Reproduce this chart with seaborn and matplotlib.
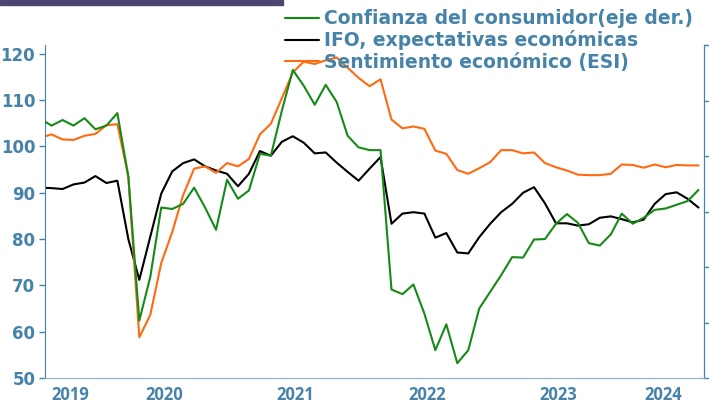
import numpy as np
import pandas as pd
import seaborn as sns
import matplotlib.pyplot as plt
from matplotlib.patches import Rectangle

# Monthly data, Jul 2019 - Jul 2024 (first month only partly visible)
months = pd.date_range("2019-07-01", "2024-07-01", freq="MS")

ifo = [91.1, 91.0, 90.8, 91.8, 92.2, 93.6, 92.1, 92.6, 80.0, 71.2, 80.5, 89.8,
       94.6, 96.4, 97.2, 95.7, 94.8, 94.1, 91.4, 94.1, 99.0, 98.0, 101.0, 102.2,
       100.8, 98.5, 98.7, 96.5, 94.5, 92.6, 95.2, 97.7, 83.3, 85.5, 85.8, 85.5,
       80.3, 81.3, 77.1, 76.9, 80.4, 83.3, 85.8, 87.6, 90.0, 91.2, 87.7, 83.4,
       83.4, 82.9, 83.2, 84.6, 84.9, 84.3, 83.6, 84.2, 87.6, 89.7, 90.1, 88.7,
       86.8]

esi = [101.9, 102.6, 101.5, 101.4, 102.3, 102.7, 104.6, 104.8, 93.5, 58.8, 63.6, 74.8,
       81.5, 89.5, 95.2, 95.7, 94.3, 96.4, 95.7, 97.3, 102.6, 104.9, 110.4, 116.0,
       118.3, 117.8, 118.6, 119.2, 117.0, 114.8, 113.0, 114.5, 105.8, 103.9, 104.3, 103.8,
       99.1, 98.4, 94.9, 94.1, 95.3, 96.6, 99.2, 99.2, 98.5, 98.7, 96.4, 95.5,
       94.8, 93.9, 93.8, 93.8, 94.1, 96.1, 96.0, 95.4, 96.1, 95.5, 96.0, 95.9,
       95.9]

# consumer confidence, drawn on the (unlabelled) right axis
confianza = [105.9, 104.5, 105.7, 104.5, 106.1, 103.7, 104.5, 107.2, 93.5, 62.4, 71.8, 86.8,
             86.5, 87.6, 91.1, 86.8, 82.0, 92.8, 88.7, 90.5, 98.4, 98.0, 107.7, 116.5,
             113.1, 109.0, 113.3, 109.6, 102.3, 99.8, 99.2, 99.2, 69.1, 68.1, 70.2, 63.9,
             56.0, 61.6, 53.2, 56.0, 65.0, 68.6, 72.2, 76.1, 76.0, 79.9, 80.0, 83.3,
             85.4, 83.5, 79.1, 78.6, 81.0, 85.5, 83.3, 84.6, 86.3, 86.6, 87.4, 88.2,
             90.6]

years = [2019, 2020, 2021, 2022, 2023, 2024]
labels = ["Confianza del consumidor(eje der.)", "IFO, expectativas económicas",
          "Sentimiento económico (ESI)"]

df = pd.DataFrame({"fecha": months, "ifo": ifo, "esi": esi, "confianza": confianza})
df["pos"] = np.arange(len(df)) - 1  # Aug 2019 -> 0

sns.set_style("white")
plt.rcParams["font.family"] = ["DejaVu Sans"]

blue = "#4683a8"
green = "#168a16"
orange = "#ff6a10"

fig = plt.figure(figsize=(7.09, 4.03), dpi=100)
ax = fig.add_axes([45 / 709, 25 / 403, 659 / 709, 333 / 403])
ax2 = ax.twinx()

sns.lineplot(data=df, x="pos", y="ifo", ax=ax, color="black", lw=1.5)
sns.lineplot(data=df, x="pos", y="esi", ax=ax, color=orange, lw=1.5)
sns.lineplot(data=df, x="pos", y="confianza", ax=ax2, color=green, lw=1.5)

ylo, yhi = 50, 121.9
ax.set_ylim(ylo, yhi)
ax2.set_ylim(ylo, yhi)
ax.set_xlim(-0.6, df["pos"].max() + 0.5)

ax.set_yticks(range(50, 121, 10))
ax.tick_params(axis="y", colors=blue, direction="out", length=4, width=1,
               labelsize=12, pad=3)
for t in ax.get_yticklabels():
    t.set_fontweight("bold")
ax2.set_yticks(np.linspace(ylo, yhi, 7))
ax2.set_yticklabels([])
ax2.tick_params(axis="y", colors=blue, direction="out", length=4, width=1)

# year boundaries as ticks, year names centred in between
df["year"] = df["fecha"].dt.year
bounds = df.groupby("year")["pos"].min().iloc[1:] - 0.5
ax.set_xticks(bounds.values)
ax.set_xticklabels([])
ax.tick_params(axis="x", colors="#8fb3c9", direction="out", length=4, width=1)
lo, hi = ax.get_xlim()
edges = [lo] + list(bounds.values) + [hi]
for y, a, b in zip(years, edges[:-1], edges[1:]):
    ax.text((a + b) / 2 - 0.25, -0.05, str(y), transform=ax.get_xaxis_transform(),
            ha="center", va="center", color=blue, fontsize=12, fontweight="bold",
            family="Open Sans")

ax.set_xlabel("")
ax.set_ylabel("")
ax2.set_ylabel("")
for a in (ax, ax2):
    a.spines["top"].set_visible(False)
    a.spines["left"].set_color(blue)
    a.spines["right"].set_color(blue)
    a.spines["bottom"].set_color("#8fb3c9")
ax2.spines["left"].set_visible(False)

handles = [plt.Line2D([], [], color=c, lw=1.5) for c in (green, "black", orange)]
leg = fig.legend(handles, labels, loc="upper left", bbox_to_anchor=(274 / 709, 1.005),
                 frameon=False, fontsize=13.5, handlelength=1.8, handletextpad=0.28,
                 labelspacing=0.12, borderaxespad=0.2)
for t in leg.get_texts():
    t.set_color(blue)
    t.set_fontweight("bold")

fig.patches.append(Rectangle((0, 1 - 5 / 403), 283 / 709, 5 / 403, transform=fig.transFigure,
                             color="#4b4570", zorder=5))

fig.savefig("out.png", dpi=100)
